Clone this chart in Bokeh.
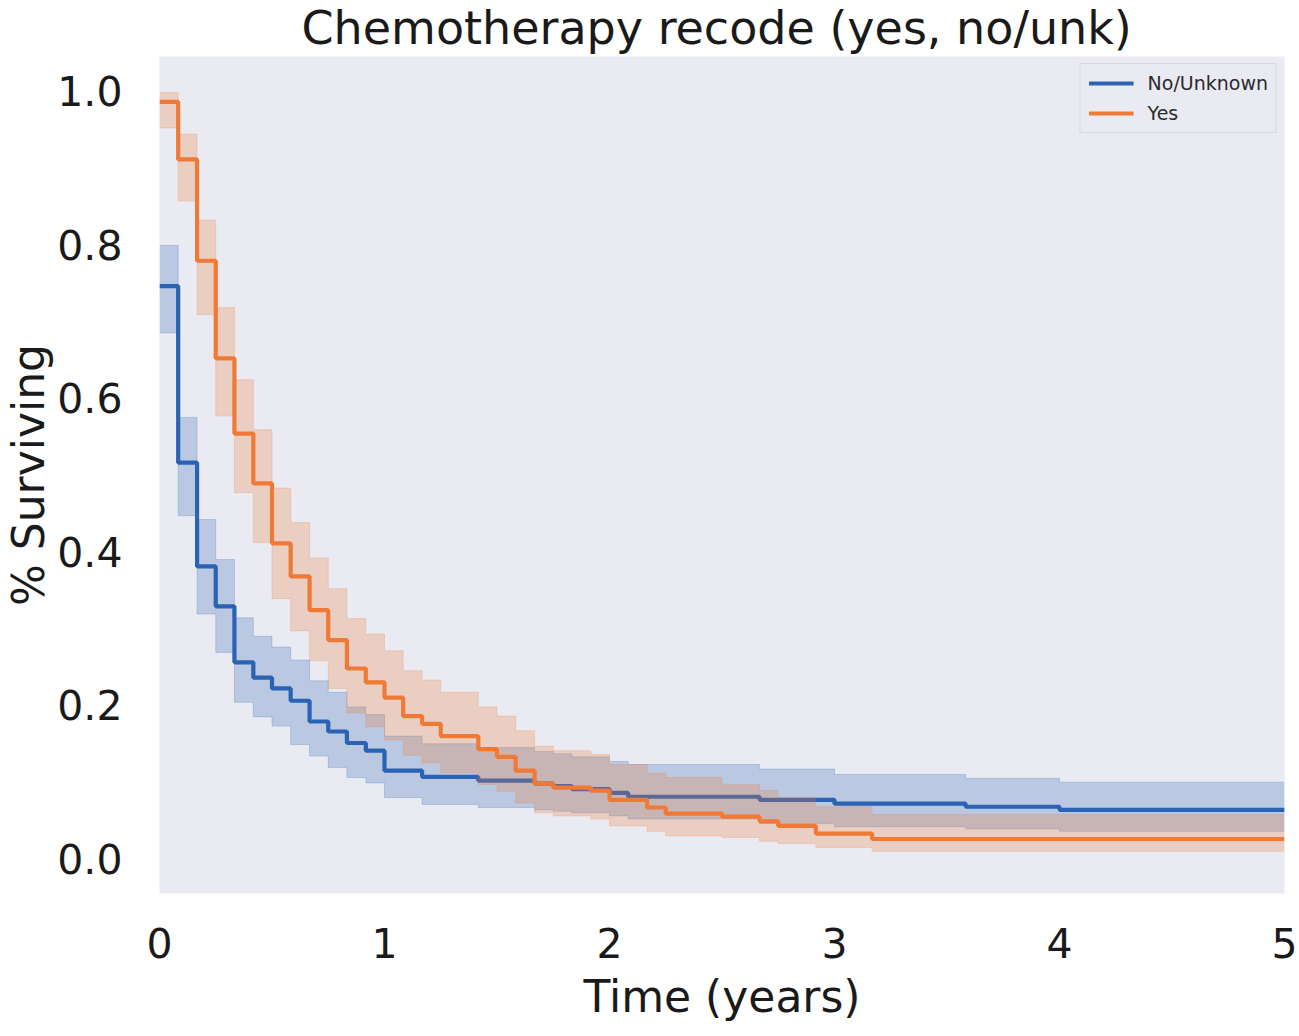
from bokeh.plotting import figure
from bokeh.models import ColumnDataSource, Range1d, Legend, LegendItem, FixedTicker
from bokeh.embed import file_html
from bokeh.resources import INLINE

# ---------------- data ----------------
title_text = "Chemotherapy recode (yes, no/unk)"
x_label = "Time (years)"
y_label = "% Surviving"
series_names = ["No/Unknown", "Yes"]
x_ticks = [0, 1, 2, 3, 4, 5]
x_tick_labels = ["0", "1", "2", "3", "4", "5"]
y_ticks = [0.0, 0.2, 0.4, 0.6, 0.8, 1.0]
y_tick_labels = ["0.0", "0.2", "0.4", "0.6", "0.8", "1.0"]
x_end = 5.0

no_t = [0.0, 0.083, 0.167, 0.25, 0.333, 0.417, 0.5, 0.583, 0.667, 0.75, 0.833, 0.917,
        1.0, 1.167, 1.417, 1.667, 1.75, 1.833, 2.0, 2.083, 2.667, 3.0, 3.583, 4.0]
no_s = [0.746, 0.516, 0.381, 0.329, 0.256, 0.236, 0.222, 0.206, 0.179, 0.166, 0.151, 0.141,
        0.115, 0.107, 0.102, 0.098, 0.095, 0.091, 0.086, 0.081, 0.077, 0.072, 0.068, 0.064]
no_hi = [0.799, 0.575, 0.442, 0.390, 0.314, 0.290, 0.276, 0.259, 0.232, 0.217, 0.198, 0.188,
         0.160, 0.150, 0.145, 0.140, 0.137, 0.133, 0.127, 0.123, 0.117, 0.110, 0.105, 0.100]
no_lo = [0.685, 0.447, 0.319, 0.269, 0.204, 0.185, 0.173, 0.149, 0.134, 0.119, 0.106, 0.099,
         0.080, 0.071, 0.067, 0.064, 0.062, 0.060, 0.056, 0.052, 0.046, 0.042, 0.039, 0.036]

yes_t = [0.0, 0.083, 0.167, 0.25, 0.333, 0.417, 0.5, 0.583, 0.667, 0.75, 0.833, 0.917,
         1.0, 1.083, 1.167, 1.25, 1.417, 1.5, 1.583, 1.667, 1.75, 1.917,
         2.0, 2.167, 2.25, 2.5, 2.667, 2.75, 2.917, 3.167]
yes_s = [0.986, 0.911, 0.779, 0.652, 0.554, 0.489, 0.411, 0.368, 0.324, 0.285, 0.248, 0.230,
         0.210, 0.186, 0.176, 0.160, 0.143, 0.133, 0.115, 0.098, 0.093, 0.089,
         0.077, 0.067, 0.059, 0.055, 0.049, 0.043, 0.033, 0.026]
yes_hi = [0.998, 0.944, 0.832, 0.718, 0.624, 0.559, 0.483, 0.438, 0.392, 0.352, 0.313, 0.293,
          0.271, 0.245, 0.233, 0.217, 0.198, 0.186, 0.167, 0.147, 0.141, 0.136,
          0.123, 0.112, 0.106, 0.097, 0.089, 0.080, 0.068, 0.058]
yes_lo = [0.952, 0.857, 0.709, 0.577, 0.477, 0.412, 0.339, 0.297, 0.258, 0.222, 0.190, 0.172,
          0.155, 0.135, 0.125, 0.112, 0.097, 0.088, 0.073, 0.060, 0.056, 0.052,
          0.043, 0.036, 0.030, 0.028, 0.023, 0.020, 0.015, 0.010]

colors = ["#2a62b4", "#f07a35"]
FONT = "DejaVu Sans"
TXT = "#1a1a1a"

# ---------------- figure ----------------
W, H = 1298, 1034
p = figure(width=W, height=H, output_backend="svg", toolbar_location=None,
           x_range=Range1d(0, 5), y_range=Range1d(-0.045, 1.045))
p.min_border_left = 158
p.min_border_right = 14
p.min_border_top = 55
p.min_border_bottom = 141
p.background_fill_color = "#eaeaf2"
p.border_fill_color = "white"
p.outline_line_color = None
p.xgrid.visible = False
p.ygrid.visible = False

p.title.text = title_text
p.title.text_font = FONT
p.title.text_font_size = "46px"
p.title.text_font_style = "normal"
p.title.text_color = TXT
p.title.align = "left"
p.title.offset = 142
p.title.standoff = 0
p.title.vertical_align = "top"

for ax in (p.xaxis[0], p.yaxis[0]):
    ax.axis_line_color = None
    ax.major_tick_line_color = None
    ax.minor_tick_line_color = None
    ax.major_label_text_font = FONT
    ax.major_label_text_font_size = "41px"
    ax.major_label_text_color = TXT
    ax.axis_label_text_font = FONT
    ax.axis_label_text_font_size = "44px"
    ax.axis_label_text_color = TXT
    ax.axis_label_text_font_style = "normal"

p.xaxis.axis_label_standoff = 10
p.yaxis.axis_label_standoff = 0
p.xaxis.ticker = FixedTicker(ticks=x_ticks)
p.xaxis.major_label_overrides = {t: l for t, l in zip(x_ticks, x_tick_labels)}
p.yaxis.ticker = FixedTicker(ticks=y_ticks)
p.yaxis.major_label_overrides = {t: l for t, l in zip(y_ticks, y_tick_labels)}
p.xaxis.major_label_standoff = 28
p.yaxis.major_label_standoff = 31
p.xaxis.axis_label = x_label
p.yaxis.axis_label = y_label

renderers = []
for (t, s, lo, hi), col in zip([(no_t, no_s, no_lo, no_hi), (yes_t, yes_s, yes_lo, yes_hi)], colors):
    src = ColumnDataSource(dict(
        t=list(t) + [x_end],
        s=list(s) + [s[-1]],
        lo=list(lo) + [lo[-1]],
        hi=list(hi) + [hi[-1]],
    ))
    p.varea_step(x="t", y1="lo", y2="hi", source=src, step_mode="after",
                 fill_color=col, fill_alpha=0.25)
    p.step(x="t", y="lo", source=src, mode="after", line_color=col, line_alpha=0.22, line_width=1)
    p.step(x="t", y="hi", source=src, mode="after", line_color=col, line_alpha=0.22, line_width=1)
    r = p.step(x="t", y="s", source=src, mode="after", line_color=col, line_width=4.2)
    renderers.append(r)

legend = Legend(items=[LegendItem(label=n, renderers=[r]) for n, r in zip(series_names, renderers)],
                location="top_right")
legend.margin = 7
legend.padding = 8
legend.spacing = 8
legend.glyph_width = 45
legend.glyph_height = 20
legend.label_height = 20
legend.label_standoff = 14
legend.label_text_font = FONT
legend.label_text_font_size = "19px"
legend.label_text_color = "#2b2b2b"
legend.background_fill_color = "#eaeaf2"
legend.background_fill_alpha = 0.8
legend.border_line_color = "#c8c8c8"
legend.border_line_width = 1.5
p.add_layout(legend, "center")

open("out.html", "w").write(file_html(p, INLINE))
